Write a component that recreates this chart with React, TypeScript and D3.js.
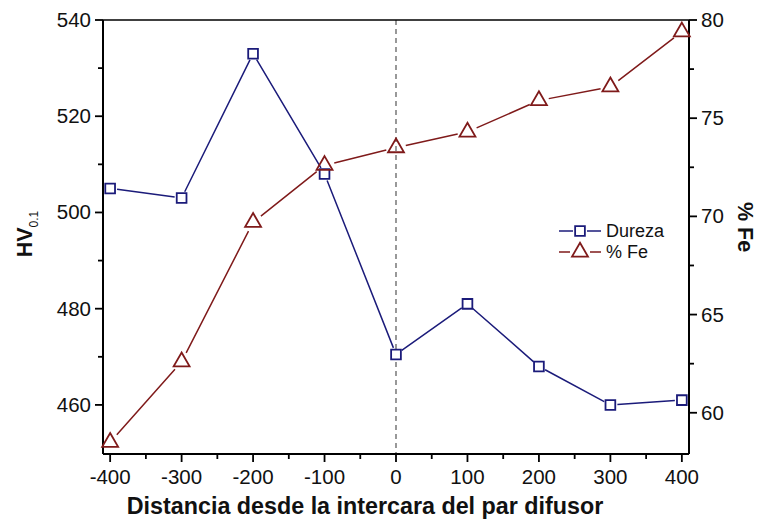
import React from "react";
import * as d3 from "d3";

// Distance from the diffusion-couple interface (µm)
const distances = [-400, -300, -200, -100, 0, 100, 200, 300, 400];
// Microhardness HV0.1
const dureza = [505, 503, 533, 508, 470.5, 481, 468, 460, 461];
// Iron content (%)
const fePercent = [58.5, 62.6, 69.7, 72.6, 73.5, 74.3, 75.9, 76.6, 79.4];

const xTicks = [-400, -300, -200, -100, 0, 100, 200, 300, 400];
const xMinorTicks = [-350, -250, -150, -50, 50, 150, 250, 350];
const leftTicks = [460, 480, 500, 520, 540];
const leftMinorTicks = [470, 490, 510, 530];
const rightTicks = [60, 65, 70, 75, 80];
const rightMinorTicks = [62.5, 67.5, 72.5, 77.5];

const W = 757;
const H = 523;
const M = { left: 103, right: 689, top: 20, bottom: 454 };

const BLUE = "#1b1b7a";
const RED = "#7f1a1a";
const FONT = "Arial, 'Liberation Sans', sans-serif";

const x = d3.scaleLinear().domain([-410, 410]).range([M.left, M.right]);
const yL = d3.scaleLinear().domain([449.8, 540]).range([M.bottom, M.top]);
const yR = d3.scaleLinear().domain([57.9, 80]).range([M.bottom, M.top]);

type Pt = [number, number];

// Segments between consecutive points, trimmed so they stop short of the symbols
function gappedSegments(pts: Pt[], gap: number) {
  const segs: string[] = [];
  for (let i = 0; i < pts.length - 1; i++) {
    const [x0, y0] = pts[i];
    const [x1, y1] = pts[i + 1];
    const len = Math.hypot(x1 - x0, y1 - y0);
    if (len <= 2 * gap) continue;
    const ux = (x1 - x0) / len;
    const uy = (y1 - y0) / len;
    segs.push(
      `M${x0 + ux * gap},${y0 + uy * gap}L${x1 - ux * gap},${y1 - uy * gap}`
    );
  }
  return segs.join("");
}

const squareSym = d3.symbol().type(d3.symbolSquare).size(95);
const triSym = d3.symbol().type(d3.symbolTriangle).size(110);

export default function App() {
  const durezaPts: Pt[] = distances.map((d, i) => [x(d), yL(dureza[i])]);
  const fePts: Pt[] = distances.map((d, i) => [x(d), yR(fePercent[i])]);

  const legX = 559;
  const legY1 = 231;
  const legY2 = 252;

  return (
    <div style={{ position: "absolute", left: 0, top: 0 }}>
      <svg width={W} height={H} style={{ display: "block", background: "#fff" }}>
        {/* interface marker */}
        <line
          x1={x(0)}
          x2={x(0)}
          y1={M.top}
          y2={M.bottom}
          stroke="#555"
          strokeWidth={1.2}
          strokeDasharray="5,4"
        />

        {/* frame */}
        <line x1={M.left} x2={M.right} y1={M.top} y2={M.top} stroke="#000" strokeWidth={1.6} />
        <line x1={M.left} x2={M.right} y1={M.bottom} y2={M.bottom} stroke="#000" strokeWidth={2} />
        <line x1={M.left} x2={M.left} y1={M.top} y2={M.bottom} stroke="#000" strokeWidth={2} />
        <line x1={M.right} x2={M.right} y1={M.top} y2={M.bottom} stroke="#000" strokeWidth={2} />

        {/* x axis ticks */}
        {xTicks.map((t) => (
          <g key={"xt" + t}>
            <line x1={x(t)} x2={x(t)} y1={M.bottom} y2={M.bottom + 8} stroke="#000" strokeWidth={1.8} />
            <text
              x={x(t)}
              y={M.bottom + 30}
              textAnchor="middle"
              fontFamily={FONT}
              fontSize={20.5}
              fill="#111"
            >
              {t}
            </text>
          </g>
        ))}
        {xMinorTicks.map((t) => (
          <line key={"xm" + t} x1={x(t)} x2={x(t)} y1={M.bottom} y2={M.bottom + 5} stroke="#000" strokeWidth={1.8} />
        ))}

        {/* left axis */}
        {leftTicks.map((t) => (
          <g key={"lt" + t}>
            <line x1={M.left - 8} x2={M.left} y1={yL(t)} y2={yL(t)} stroke="#000" strokeWidth={1.8} />
            <text
              x={M.left - 12}
              y={yL(t) + 7}
              textAnchor="end"
              fontFamily={FONT}
              fontSize={20.5}
              fill="#111"
            >
              {t}
            </text>
          </g>
        ))}
        {leftMinorTicks.map((t) => (
          <line key={"lm" + t} x1={M.left - 5} x2={M.left} y1={yL(t)} y2={yL(t)} stroke="#000" strokeWidth={1.8} />
        ))}

        {/* right axis */}
        {rightTicks.map((t) => (
          <g key={"rt" + t}>
            <line x1={M.right} x2={M.right + 8} y1={yR(t)} y2={yR(t)} stroke="#000" strokeWidth={1.8} />
            <text
              x={M.right + 12}
              y={yR(t) + 7}
              textAnchor="start"
              fontFamily={FONT}
              fontSize={20.5}
              fill="#111"
            >
              {t}
            </text>
          </g>
        ))}
        {rightMinorTicks.map((t) => (
          <line key={"rm" + t} x1={M.right} x2={M.right + 5} y1={yR(t)} y2={yR(t)} stroke="#000" strokeWidth={1.8} />
        ))}

        {/* axis titles */}
        <text
          x={365}
          y={514}
          textAnchor="middle"
          fontFamily={FONT}
          fontWeight="bold"
          fontSize={23.3}
          fill="#111"
        >
          Distancia desde la intercara del par difusor
        </text>
        <text
          transform={`translate(32, 234) rotate(-90)`}
          textAnchor="middle"
          fontFamily={FONT}
          fontWeight="bold"
          fontSize={21.5}
          fill="#111"
        >
          HV
          <tspan fontSize={12} fontWeight="normal" dy={6}>
            0.1
          </tspan>
        </text>
        <text
          transform={`translate(738, 227) rotate(90)`}
          textAnchor="middle"
          fontFamily={FONT}
          fontWeight="bold"
          fontSize={21.5}
          fill="#111"
        >
          % Fe
        </text>

        {/* Dureza series */}
        <path d={gappedSegments(durezaPts, 7)} fill="none" stroke={BLUE} strokeWidth={1.5} />
        {durezaPts.map(([px, py], i) => (
          <path
            key={"sq" + i}
            d={squareSym() as string}
            transform={`translate(${px},${py})`}
            fill="#fff"
            stroke={BLUE}
            strokeWidth={1.8}
          />
        ))}

        {/* %Fe series */}
        <path d={gappedSegments(fePts, 10)} fill="none" stroke={RED} strokeWidth={1.5} />
        {fePts.map(([px, py], i) => (
          <path
            key={"tr" + i}
            d={triSym() as string}
            transform={`translate(${px},${py})`}
            fill="none"
            stroke={RED}
            strokeWidth={1.8}
          />
        ))}

        {/* legend */}
        <line x1={legX} x2={legX + 14} y1={legY1} y2={legY1} stroke={BLUE} strokeWidth={1.5} />
        <line x1={legX + 28} x2={legX + 42} y1={legY1} y2={legY1} stroke={BLUE} strokeWidth={1.5} />
        <path
          d={squareSym() as string}
          transform={`translate(${legX + 21},${legY1})`}
          fill="#fff"
          stroke={BLUE}
          strokeWidth={1.8}
        />
        <text x={legX + 47} y={legY1 + 6} fontFamily={FONT} fontSize={18} fill="#111">
          Dureza
        </text>
        <line x1={legX} x2={legX + 11} y1={legY2} y2={legY2} stroke={RED} strokeWidth={1.5} />
        <line x1={legX + 31} x2={legX + 42} y1={legY2} y2={legY2} stroke={RED} strokeWidth={1.5} />
        <path
          d={triSym() as string}
          transform={`translate(${legX + 21},${legY2})`}
          fill="none"
          stroke={RED}
          strokeWidth={1.8}
        />
        <text x={legX + 47} y={legY2 + 6} fontFamily={FONT} fontSize={18} fill="#111">
          % Fe
        </text>
      </svg>
    </div>
  );
}
